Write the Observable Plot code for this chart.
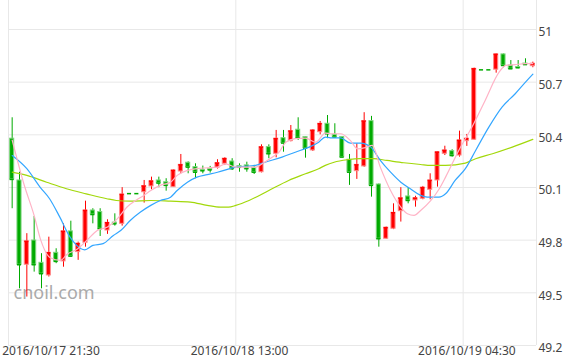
<!DOCTYPE html>
<html><head><meta charset="utf-8">
<script src="https://cdn.jsdelivr.net/npm/d3@7"></script>
<script src="https://cdn.jsdelivr.net/npm/@observablehq/plot@0.6"></script>
<style>body{margin:0;background:#fff;} #chart svg{display:block}</style>
</head><body><div id="chart"></div>
<script>
// 30-minute candles, index 0 = 2016/10/17 21:30
const openV  = [50.378,50.14,49.66,49.798,49.671,49.599,49.728,49.679,49.85,49.732,49.785,49.969,49.96,49.855,49.9,49.893,50.065,50.065,50.073,50.106,50.14,50.13,50.102,50.191,50.241,50.216,50.2,50.205,50.212,50.235,50.248,50.222,50.226,50.212,50.187,50.33,50.292,50.381,50.364,50.429,50.387,50.311,50.415,50.463,50.4,50.387,50.258,50.193,50.22,50.478,50.117,49.808,49.865,49.965,50.049,50.026,50.036,50.087,50.14,50.292,50.307,50.282,50.364,50.372,50.77,50.77,50.771,50.858,50.795,50.786,50.806,50.791];
const highV  = [50.497,50.187,49.837,49.935,49.723,49.817,49.751,49.893,49.908,49.789,50.022,49.979,49.979,49.916,49.95,50.099,50.065,50.065,50.14,50.159,50.159,50.15,50.2,50.288,50.246,50.235,50.222,50.22,50.258,50.27,50.264,50.235,50.244,50.226,50.343,50.343,50.425,50.425,50.453,50.497,50.39,50.43,50.476,50.51,50.463,50.39,50.288,50.349,50.526,50.505,50.12,49.875,50.007,50.099,50.099,50.05,50.106,50.178,50.305,50.335,50.315,50.421,50.402,50.78,50.77,50.77,50.861,50.86,50.823,50.823,50.833,50.814];
const lowV   = [49.979,49.523,49.476,49.618,49.523,49.59,49.666,49.646,49.703,49.685,49.76,49.893,49.821,49.833,49.88,49.88,50.065,50.065,50.011,50.087,50.099,50.079,50.1,50.178,50.178,50.15,50.178,50.182,50.205,50.225,50.197,50.187,50.187,50.174,50.183,50.264,50.269,50.301,50.36,50.368,50.267,50.305,50.4,50.378,50.385,50.27,50.112,50.146,50.215,50.045,49.76,49.805,49.86,49.903,50.007,49.988,50.03,50.03,50.102,50.282,50.273,50.273,50.334,50.37,50.77,50.77,50.751,50.782,50.775,50.776,50.795,50.782];
const closeV = [50.146,49.66,49.793,49.66,49.609,49.728,49.679,49.85,49.709,49.78,49.969,49.946,49.865,49.899,49.893,50.06,50.065,50.065,50.108,50.136,50.125,50.112,50.197,50.229,50.216,50.187,50.195,50.2,50.239,50.264,50.207,50.215,50.207,50.187,50.33,50.292,50.378,50.353,50.421,50.383,50.324,50.425,50.463,50.406,50.387,50.273,50.187,50.229,50.478,50.112,49.808,49.871,49.956,50.039,50.026,50.039,50.099,50.14,50.301,50.311,50.282,50.368,50.378,50.776,50.77,50.77,50.858,50.795,50.776,50.782,50.8,50.805];

// moving average lines: [candle index, value]
const maPink = [[0,50.37],[1.6,50.12],[3,49.94],[3.9,49.8],[5.2,49.70],[6.6,49.685],[7.5,49.72],[8.9,49.75],[10.2,49.8],[11.6,49.855],[13,49.875],[14.3,49.92],[15.7,49.99],[17,50.03],[17.95,50.055],[18.9,50.083],[20.2,50.112],[21.6,50.13],[22.5,50.169],[23.9,50.197],[25.2,50.207],[26.6,50.212],[28,50.216],[29.1,50.235],[30.5,50.216],[31.8,50.216],[33.2,50.216],[34.1,50.235],[35.5,50.273],[36.4,50.301],[37.3,50.358],[38.6,50.378],[40,50.381],[41.4,50.358],[42.7,50.41],[43.4,50.406],[44.8,50.406],[46.1,50.368],[47.1,50.32],[48.2,50.328],[49.1,50.34],[50.2,50.216],[51.6,50.083],[53,49.988],[53.9,49.95],[54.8,49.941],[55.7,49.969],[57.1,50.026],[58.2,50.09],[59.1,50.159],[60.9,50.311],[62.7,50.444],[64.5,50.596],[66.4,50.757],[67.3,50.795],[68.6,50.8],[70,50.805],[71,50.805]];
const maBlue = [[0,50.282],[2,50.207],[3.8,50.102],[5.1,50.036],[6.5,49.931],[7.9,49.817],[8.8,49.77],[9.9,49.745],[11,49.77],[12.4,49.78],[13.8,49.827],[14.8,49.855],[16.1,49.912],[17.5,49.96],[18.9,49.998],[20.2,50.026],[21.6,50.045],[22.5,50.083],[23.9,50.13],[25.2,50.159],[26.6,50.173],[28,50.187],[30.5,50.216],[33.2,50.226],[34.5,50.244],[36.8,50.273],[38.6,50.301],[40.5,50.33],[41.8,50.358],[42.7,50.387],[43.4,50.383],[44.8,50.383],[46.1,50.353],[47.5,50.353],[48.9,50.33],[50.2,50.254],[51.6,50.187],[53,50.13],[54.3,50.093],[55.7,50.055],[56.6,50.045],[58.2,50.045],[59.1,50.064],[60.4,50.14],[61.8,50.207],[63.2,50.311],[65,50.444],[66.8,50.558],[68.6,50.634],[70,50.7],[71,50.745]];
const maGreen = [[0,50.187],[2,50.169],[4.7,50.13],[7.4,50.093],[10.1,50.064],[12.9,50.036],[14.2,50.026],[16.1,50.022],[18.9,50.026],[21.6,50.022],[24.3,50.017],[26.6,49.998],[28.4,49.988],[29.5,49.988],[30.5,49.998],[32.3,50.026],[35,50.083],[37.7,50.14],[40,50.178],[41.8,50.207],[42.7,50.226],[43.9,50.244],[45.7,50.258],[47.5,50.264],[49.3,50.264],[51.1,50.254],[53.4,50.241],[55.7,50.231],[57.1,50.226],[59.1,50.226],[61.8,50.239],[63.2,50.264],[65.5,50.292],[68.2,50.33],[71,50.374]];

const tickIndex = [0, 31, 62];
const tickLabels = ["2016/10/17 21:30", "2016/10/18 13:00", "2016/10/19 04:30"];
const yTicks = [49.2, 49.5, 49.8, 50.1, 50.4, 50.7, 51];

const candles = openV.map((o, i) => ({i, open: o, high: highV[i], low: lowV[i], close: closeV[i]}));
const up = d => d.close > d.open;
const col = d => up(d) ? "#ff0000" : "#00aa00";
const halo = d => up(d) ? "#ff8a8a" : "#7fd67f";
const n = candles.length;
const vLines = [...tickIndex.map(i => i - 0.5), n - 0.5];
const lbl = i => tickLabels[tickIndex.indexOf(i)];
const grid = "#e8e8e8";

const chart = Plot.plot({
  width: 563,
  height: 360,
  marginLeft: 8,
  marginRight: 27,
  marginTop: 0,
  marginBottom: 15,
  style: {fontFamily: "Noto Sans", fontSize: "12px", color: "#444", background: "#fff", overflow: "visible"},
  x: {domain: [-0.5, n - 0.5]},
  y: {domain: [49.2, 51.165]},
  marks: [
    Plot.gridY(yTicks, {stroke: grid, strokeOpacity: 1}),
    Plot.ruleX(vLines, {stroke: grid}),
    Plot.axisY(yTicks, {anchor: "right", tickSize: 0, tickPadding: 2, dy: 3, tickFormat: d => String(d), label: null}),
    Plot.axisX(tickIndex.slice(1), {tickSize: 0, tickPadding: 1, tickFormat: lbl, label: null}),
    Plot.axisX(tickIndex.slice(0, 1), {tickSize: 0, tickPadding: 1, tickFormat: lbl, textAnchor: "start", dx: -10, label: null}),
    Plot.text(["cnoil.com"], {frameAnchor: "bottom-left", dx: 5, dy: -47, textAnchor: "start", fontSize: 18, fill: "#aaa"}),
    Plot.ruleX(candles, {x: "i", y1: "low", y2: "high", stroke: col, strokeWidth: 1}),
    Plot.rect(candles, {x1: d => d.i - 0.28, x2: d => d.i + 0.28, y1: "open", y2: "close", fill: col, stroke: halo, strokeWidth: 1}),
    Plot.ruleY(candles, {x1: d => d.i - 0.28, x2: d => d.i + 0.28, y: "close", stroke: col, strokeWidth: 1.5}),
    Plot.line(maGreen, {x: d => d[0], y: d => d[1], stroke: "#a2d80a", strokeWidth: 1.2, curve: "monotone-x"}),
    Plot.line(maBlue, {x: d => d[0], y: d => d[1], stroke: "#33a6ff", strokeWidth: 1.2, curve: "monotone-x"}),
    Plot.line(maPink, {x: d => d[0], y: d => d[1], stroke: "#ffb3c6", strokeWidth: 1.2, curve: "monotone-x"})
  ]
});
document.getElementById("chart").appendChild(chart);
</script>
</body></html>
